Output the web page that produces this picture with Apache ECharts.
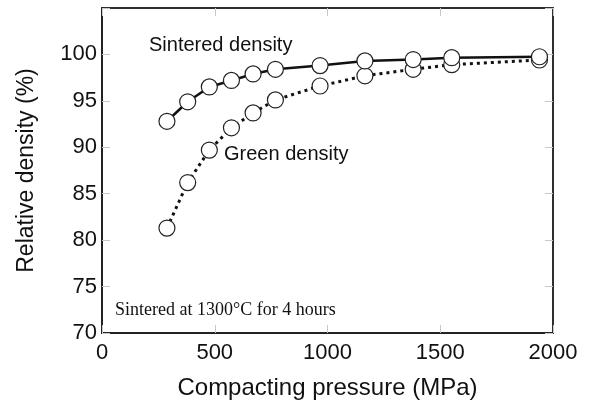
<!DOCTYPE html>
<html><head><meta charset="utf-8">
<script src="https://cdn.jsdelivr.net/npm/echarts@6/dist/echarts.min.js"></script>
<style>html,body{margin:0;padding:0;background:#fff}#c{width:589px;height:403px}</style>
</head><body><div id="c"></div>
<script>
const pressure = [288, 380, 476, 574, 670, 769, 967, 1166, 1380, 1551, 1940];
const sintered = [92.8, 94.9, 96.5, 97.2, 97.9, 98.4, 98.8, 99.3, 99.45, 99.65, 99.75];
const green = [81.3, 86.2, 89.7, 92.1, 93.7, 95.1, 96.6, 97.7, 98.4, 98.9, 99.4];
const xTicks = [0, 500, 1000, 1500, 2000];
const yTicks = [70, 75, 80, 85, 90, 95, 100];

const chart = echarts.init(document.getElementById('c'), null, {renderer: 'canvas'});
const font = 'Liberation Sans, Arial, sans-serif';
const tickStyle = {show: true, inside: true, length: 8, lineStyle: {color: '#c8c8c8', width: 1}};
const pair = (ys) => pressure.map((x, i) => [x, ys[i]]);
chart.setOption({
  animation: false,
  backgroundColor: '#fff',
  grid: {left: 102, right: 36, top: 8, bottom: 70, containLabel: false, outerBoundsMode: 'none',
    show: true, borderColor: '#222', borderWidth: 1.5},
  xAxis: [{
    type: 'value', min: 0, max: 2000, interval: 500, position: 'bottom',
    axisLine: {show: true, onZero: false, lineStyle: {color: '#222', width: 2}},
    axisTick: tickStyle, splitLine: {show: false},
    axisLabel: {color: '#111', fontSize: 22, fontFamily: font, margin: 9,
      formatter: v => xTicks.includes(v) ? String(v) : ''},
    name: 'Compacting pressure (MPa)', nameLocation: 'middle', nameGap: 43,
    nameTextStyle: {color: '#111', fontSize: 24, fontFamily: font}
  }, {
    type: 'value', min: 0, max: 2000, interval: 500, position: 'top',
    axisLine: {show: true, onZero: false, lineStyle: {color: '#222', width: 1.5}},
    axisTick: tickStyle, axisLabel: {show: false}, splitLine: {show: false}
  }],
  yAxis: [{
    type: 'value', min: 70, max: 105, interval: 5, position: 'left',
    axisLine: {show: true, onZero: false, lineStyle: {color: '#222', width: 2}},
    axisTick: tickStyle, splitLine: {show: false},
    axisLabel: {color: '#111', fontSize: 22, fontFamily: font, margin: 5, padding: [5, 0, 0, 0],
      formatter: v => yTicks.includes(v) ? String(v) : ''},
    name: 'Relative density (%)', nameLocation: 'middle', nameGap: 64, nameRotate: 90,
    nameTextStyle: {color: '#111', fontSize: 23, fontFamily: font}
  }, {
    type: 'value', min: 70, max: 105, interval: 5, position: 'right',
    axisLine: {show: true, onZero: false, lineStyle: {color: '#222', width: 1.5}},
    axisTick: tickStyle, axisLabel: {show: false}, splitLine: {show: false}
  }],
  series: [{
    name: 'Green density', type: 'line', data: pair(green), z: 2,
    symbol: 'circle', symbolSize: 16,
    itemStyle: {color: '#fff', borderColor: '#222', borderWidth: 1.2},
    lineStyle: {color: '#111', width: 3, type: [3, 4]}
  }, {
    name: 'Sintered density', type: 'line', data: pair(sintered), z: 3,
    symbol: 'circle', symbolSize: 16,
    itemStyle: {color: '#fff', borderColor: '#222', borderWidth: 1.2},
    lineStyle: {color: '#111', width: 2.5}
  }],
  graphic: [
    {type: 'text', left: 149, top: 35, style: {text: 'Sintered density', fontSize: 20, fontFamily: font, fill: '#111'}},
    {type: 'text', left: 224, top: 144, style: {text: 'Green density', fontSize: 20, fontFamily: font, fill: '#111'}},
    {type: 'text', left: 115, top: 301, style: {text: 'Sintered at 1300\u00b0C for 4 hours', fontSize: 18, fontFamily: 'Liberation Serif, Times New Roman, serif', fill: '#111'}}
  ]
});
</script></body></html>
